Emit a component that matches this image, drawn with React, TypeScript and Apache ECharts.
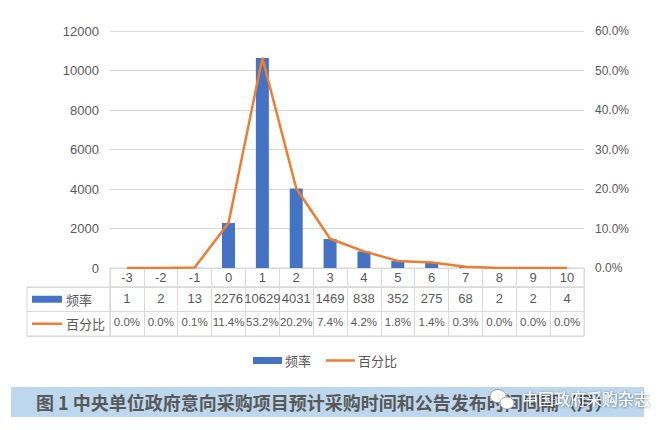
import React, { useEffect, useRef } from "react";
import * as echarts from "echarts";

const categories = ["-3", "-2", "-1", "0", "1", "2", "3", "4", "5", "6", "7", "8", "9", "10"];
const frequency = [1, 2, 13, 2276, 10629, 4031, 1469, 838, 352, 275, 68, 2, 2, 4];
const percent = [0.0, 0.0, 0.1, 11.4, 53.2, 20.2, 7.4, 4.2, 1.8, 1.4, 0.3, 0.0, 0.0, 0.0];
const leftTicks = { min: 0, max: 12000, interval: 2000 };
const rightTicks = { min: 0, max: 60, interval: 10 };
const seriesNames = ["频率", "百分比"];
const titleText = "图 1 中央单位政府意向采购项目预计采购时间和公告发布时间间隔（月）";
const watermarkText = "中国政府采购杂志";

const BLUE = "#4472C4";
const ORANGE = "#ED7D31";
const TEXT = "#595959";
const GRID = "#D9D9D9";
const FONT = "'Liberation Sans', 'Noto Sans CJK SC', sans-serif";
const CJK = "'Noto Sans CJK SC', sans-serif";

export default function App() {
  const ref = useRef<HTMLDivElement>(null);
  useEffect(() => {
    if (!ref.current) return;
    const chart = echarts.init(ref.current, undefined, { renderer: "svg" });
    const plotLeft = 110;
    const plotWidth = 474;
    const hidden = { show: false };
    chart.setOption({
      animation: false,
      textStyle: { fontFamily: FONT, color: TEXT },
      grid: [
        { left: plotLeft, top: 31, width: plotWidth, height: 237 },
        { left: plotLeft, top: 268, width: plotWidth, height: 19, show: true, borderColor: GRID, borderWidth: 1 },
        { left: 27, top: 287, width: 83, height: 49, show: true, borderColor: GRID, borderWidth: 1 },
        { left: plotLeft, top: 287, width: plotWidth, height: 49, show: true, borderColor: GRID, borderWidth: 1 },
      ],
      legend: {
        data: [
          { name: seriesNames[0], icon: "rect" },
          { name: seriesNames[1], icon: "path://M0,0L0.01,0M0,2.25H30V4.75H0ZM0,7L0.01,7" },
        ],
        left: 248,
        top: 349,
        itemWidth: 29,
        itemHeight: 7,
        itemGap: 15,
        textStyle: { fontSize: 13, color: TEXT, fontFamily: CJK, padding: [0, 0, 0, -2] },
      },
      xAxis: [
        {
          gridIndex: 0,
          type: "category",
          data: categories,
          axisLine: hidden,
          axisTick: hidden,
          axisLabel: { interval: 0, margin: 3, fontSize: 13, color: TEXT },
        },
        {
          gridIndex: 1,
          type: "category",
          data: categories,
          axisLine: hidden,
          axisTick: hidden,
          axisLabel: hidden,
          splitLine: { show: true, interval: 0, lineStyle: { color: GRID } },
        },
        { gridIndex: 2, type: "value", show: false, min: 0, max: 1 },
        {
          gridIndex: 3,
          type: "category",
          data: categories,
          axisLine: hidden,
          axisTick: hidden,
          axisLabel: hidden,
          splitLine: { show: true, interval: 0, lineStyle: { color: GRID } },
        },
        {
          gridIndex: 3,
          type: "category",
          data: categories,
          position: "bottom",
          offset: -49,
          axisLine: hidden,
          axisTick: hidden,
          axisLabel: {
            interval: 0,
            margin: 5,
            fontSize: 13,
            color: TEXT,
            formatter: (_v: string, i: number) => String(frequency[i]),
          },
        },
        {
          gridIndex: 3,
          type: "category",
          data: categories,
          position: "bottom",
          offset: -25,
          axisLine: hidden,
          axisTick: hidden,
          axisLabel: {
            interval: 0,
            margin: 5,
            fontSize: 11.5,
            color: TEXT,
            formatter: (_v: string, i: number) => percent[i].toFixed(1) + "%",
          },
        },
      ],
      yAxis: [
        {
          gridIndex: 0,
          type: "value",
          position: "left",
          ...leftTicks,
          axisLine: hidden,
          axisTick: hidden,
          axisLabel: { margin: 11, fontSize: 13, color: TEXT, formatter: (v: number) => String(v) },
          splitLine: { lineStyle: { color: GRID } },
        },
        {
          gridIndex: 0,
          type: "value",
          position: "right",
          ...rightTicks,
          axisLine: hidden,
          axisTick: hidden,
          splitLine: hidden,
          axisLabel: {
            margin: 11,
            fontSize: 12,
            color: TEXT,
            formatter: (v: number) => v.toFixed(1) + "%",
          },
        },
        { gridIndex: 1, type: "value", show: false },
        {
          gridIndex: 2,
          type: "category",
          data: seriesNames,
          inverse: true,
          axisLine: hidden,
          axisTick: hidden,
          splitLine: { show: true, interval: 0, lineStyle: { color: GRID } },
          axisLabel: {
            inside: true,
            margin: 5,
            interval: 0,
            formatter: (v: string, i: number) => (i === 0 ? `{b|}{t|${v}}` : `{l|}{t|${v}}`),
            rich: {
              b: { backgroundColor: BLUE, width: 30, height: 7, verticalAlign: "middle" },
              l: { backgroundColor: ORANGE, width: 30, height: 2.5, verticalAlign: "middle" },
              t: { fontSize: 13, color: TEXT, fontFamily: CJK, padding: [0, 0, 0, 4], verticalAlign: "middle" },
            },
          },
        },
        {
          gridIndex: 3,
          type: "category",
          data: seriesNames,
          inverse: true,
          axisLine: hidden,
          axisTick: hidden,
          axisLabel: hidden,
          splitLine: { show: true, interval: 0, lineStyle: { color: GRID } },
        },
      ],
      series: [
        {
          name: seriesNames[0],
          type: "bar",
          xAxisIndex: 0,
          yAxisIndex: 0,
          data: frequency,
          barWidth: 13,
          itemStyle: { color: BLUE },
        },
        {
          name: seriesNames[1],
          type: "line",
          xAxisIndex: 0,
          yAxisIndex: 1,
          data: percent,
          symbol: "none",
          lineStyle: { color: ORANGE, width: 2.5 },
          itemStyle: { color: ORANGE },
        },
      ],
      graphic: [
        { type: "rect", shape: { x: 11, y: 387, width: 633, height: 30 }, style: { fill: "#BDD7EE" }, z: 1 },
        {
          type: "text",
          x: 36,
          y: 402,
          style: {
            text: titleText,
            font: `bold 18px ${CJK}`,
            fill: "#595959",
            verticalAlign: "middle",
          },
          z: 2,
        },
        { type: "ellipse", shape: { cx: 498, cy: 396, rx: 8, ry: 6.5 }, style: { fill: "#ffffff", stroke: "#9a9a9a", lineWidth: 1 }, z: 3 },
        { type: "ellipse", shape: { cx: 507, cy: 403, rx: 7, ry: 6 }, style: { fill: "#ffffff", stroke: "#9a9a9a", lineWidth: 1 }, z: 3 },
        {
          type: "text",
          x: 522,
          y: 398,
          style: {
            text: watermarkText,
            font: `16px ${CJK}`,
            fill: "#ffffff",
            verticalAlign: "middle",
            textShadowColor: "rgba(0,0,0,0.55)",
            textShadowBlur: 2,
            textShadowOffsetX: 0.5,
            textShadowOffsetY: 0.5,
          },
          z: 4,
        },
      ],
    });
    return () => chart.dispose();
  }, []);
  return <div ref={ref} style={{ position: "absolute", left: 0, top: 0, width: 672, height: 430 }} />;
}
